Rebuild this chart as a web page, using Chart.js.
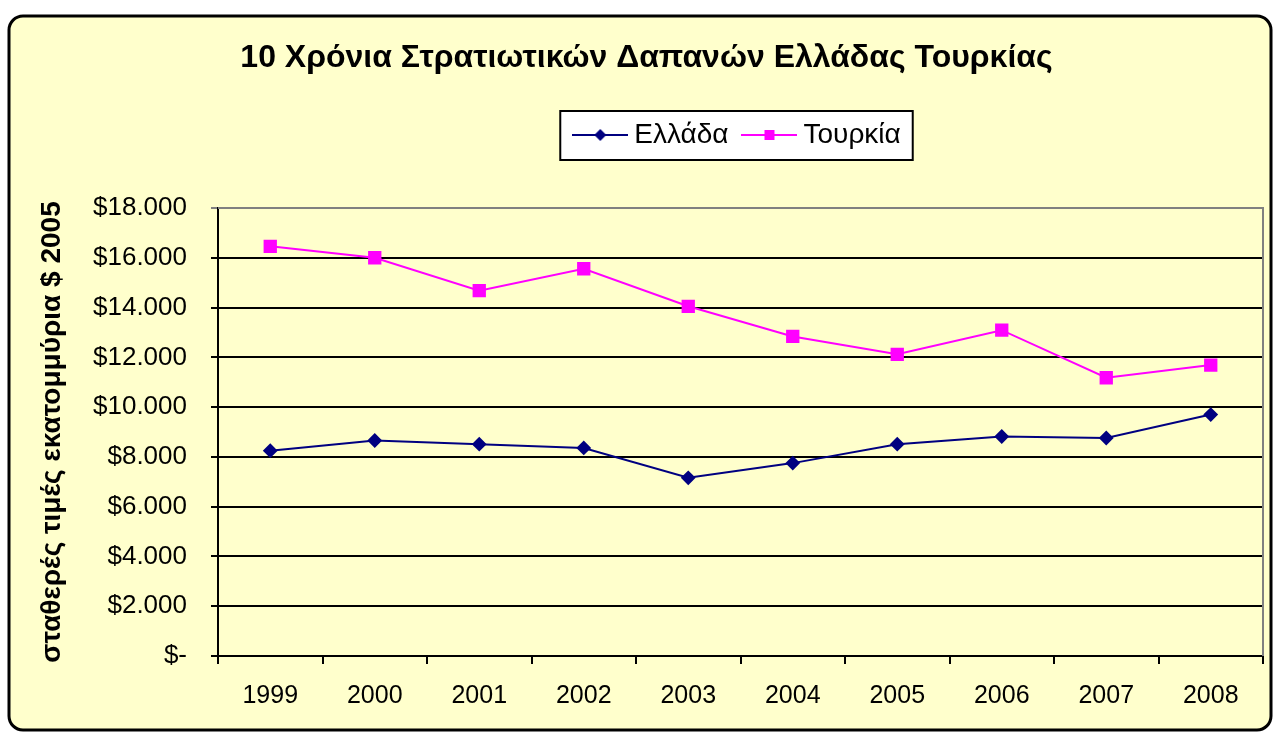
<!DOCTYPE html>
<html><head><meta charset="utf-8">
<script src="https://cdn.jsdelivr.net/npm/chart.js@4/dist/chart.umd.min.js"></script>
<style>html,body{margin:0;padding:0;background:#fff;overflow:hidden}</style>
</head><body>
<canvas id="c" width="1276" height="734"></canvas>
<script>
const years = ['1999','2000','2001','2002','2003','2004','2005','2006','2007','2008'];
const greece = [8250, 8660, 8510, 8360, 7160, 7750, 8510, 8820, 8760, 9700];
const turkey = [16460, 16000, 14680, 15560, 14050, 12840, 12120, 13090, 11180, 11690];
const seriesNames = ['Ελλάδα', 'Τουρκία'];
const yTickValues = [0, 2000, 4000, 6000, 8000, 10000, 12000, 14000, 16000, 18000];
const yTickLabels = ['$-', '$2.000', '$4.000', '$6.000', '$8.000', '$10.000', '$12.000', '$14.000', '$16.000', '$18.000'];
const chartTitle = '10 Χρόνια Στρατιωτικών Δαπανών Ελλάδας Τουρκίας';
const yAxisTitle = 'σταθερές τιμές εκατομμύρια $ 2005';

const FONT = '"Liberation Sans", Arial, sans-serif';
const GREECE_COLOR = '#000080';
const TURKEY_COLOR = '#FF00FF';
const BG = '#FFFFCC';

function makeSymbol(color, shape) {
  const c = document.createElement('canvas');
  c.width = 56; c.height = 16;
  const g = c.getContext('2d');
  g.strokeStyle = color; g.lineWidth = 2;
  g.beginPath(); g.moveTo(0, 8); g.lineTo(56, 8); g.stroke();
  g.fillStyle = color;
  if (shape === 'diamond') {
    g.beginPath(); g.moveTo(22, 8); g.lineTo(28, 2); g.lineTo(34, 8); g.lineTo(28, 14); g.closePath(); g.fill();
  } else {
    g.fillRect(23, 3, 10, 10);
  }
  return c;
}
const symbols = [makeSymbol(GREECE_COLOR, 'diamond'), makeSymbol(TURKEY_COLOR, 'square')];

const framePlugin = {
  id: 'frame',
  beforeDraw(chart) {
    const ctx = chart.ctx;
    ctx.save();
    ctx.fillStyle = '#ffffff';
    ctx.fillRect(0, 0, chart.width, chart.height);
    const x = 9, y = 16, w = chart.width - 14, h = chart.height - 20, r = 14;
    ctx.beginPath();
    ctx.moveTo(x + r, y); ctx.lineTo(x + w - r, y); ctx.arcTo(x + w, y, x + w, y + r, r);
    ctx.lineTo(x + w, y + h - r); ctx.arcTo(x + w, y + h, x + w - r, y + h, r);
    ctx.lineTo(x + r, y + h); ctx.arcTo(x, y + h, x, y + h - r, r);
    ctx.lineTo(x, y + r); ctx.arcTo(x, y, x + r, y, r); ctx.closePath();
    ctx.fillStyle = BG; ctx.fill();
    ctx.lineWidth = 3; ctx.strokeStyle = '#000'; ctx.stroke();
    // legend box
    const hb = chart.legend && chart.legend.legendHitBoxes;
    if (hb && hb.length) {
      const first = hb[0], last = hb[hb.length - 1];
      const lx = first.left - 20, rx = last.left + last.width + 12;
      const ty = first.top - 10, by = first.top + 39;
      ctx.fillStyle = '#ffffff';
      ctx.fillRect(lx, ty, rx - lx, by - ty);
      ctx.lineWidth = 2; ctx.strokeStyle = '#000';
      ctx.strokeRect(lx, ty, rx - lx, by - ty);
    }
    ctx.restore();
  },
  beforeDatasetsDraw(chart) {
    const a = chart.chartArea, ctx = chart.ctx;
    ctx.save();
    ctx.strokeStyle = '#808080'; ctx.lineWidth = 2;
    ctx.beginPath(); ctx.moveTo(a.left, a.top); ctx.lineTo(a.right, a.top); ctx.lineTo(a.right, a.bottom); ctx.stroke();
    ctx.restore();
  }
};

new Chart(document.getElementById('c'), {
  type: 'line',
  data: {
    labels: years,
    datasets: [
      { label: seriesNames[0], data: greece, borderColor: GREECE_COLOR, backgroundColor: GREECE_COLOR,
        borderWidth: 2, pointStyle: 'rectRot', pointRadius: 6, pointHoverRadius: 6, tension: 0 },
      { label: seriesNames[1], data: turkey, borderColor: TURKEY_COLOR, backgroundColor: TURKEY_COLOR,
        borderWidth: 2, pointStyle: 'rect', pointRadius: 8, pointHoverRadius: 8, tension: 0 }
    ]
  },
  options: {
    responsive: false,
    animation: false,
    devicePixelRatio: 1,
    layout: { padding: { left: 30, right: 13, top: 20, bottom: 30 } },
    plugins: {
      tooltip: { enabled: false },
      title: { display: true, text: chartTitle, color: '#000',
        font: { family: FONT, size: 32, weight: 'bold' }, padding: { top: 18.8, bottom: 22.8 } },
      subtitle: { display: true, text: '', weight: 500, font: { size: 10 }, padding: { top: 37, bottom: 0 } },
      legend: {
        display: true, position: 'top', fullSize: false,
        labels: {
          color: '#000', font: { family: FONT, size: 28 }, padding: 21,
          usePointStyle: true, pointStyleWidth: 40,
          generateLabels(chart) {
            const items = Chart.defaults.plugins.legend.labels.generateLabels(chart);
            items.forEach((it, i) => { it.pointStyle = symbols[i]; });
            return items;
          }
        }
      }
    },
    scales: {
      x: {
        type: 'category', offset: true,
        grid: { display: true, offset: true, drawOnChartArea: false, drawTicks: true, tickLength: 8, color: '#000', lineWidth: 2 },
        border: { display: true, color: '#000', width: 2 },
        ticks: { color: '#000', font: { family: FONT, size: 25 }, padding: 17, maxRotation: 0, autoSkip: false },
        afterFit(s) { s.height = 48; }
      },
      y: {
        min: 0, max: 18000,
        afterBuildTicks(s) { s.ticks = yTickValues.map(v => ({ value: v })); },
        grid: { color: (c) => (c.tick && c.tick.value === 18000 ? '#808080' : '#000'), lineWidth: 2, tickLength: 7 },
        border: { display: true, color: '#000', width: 2 },
        ticks: { color: '#000', font: { family: FONT, size: 26 }, padding: 24,
          callback: (v, i) => yTickLabels[yTickValues.indexOf(v)] },
        title: { display: true, text: yAxisTitle, color: '#000',
          font: { family: FONT, size: 28, weight: 'bold' }, padding: { top: 5, bottom: 0 } },
        afterFit(s) { s.width = 188; }
      }
    }
  },
  plugins: [framePlugin]
});
</script>
</body></html>
